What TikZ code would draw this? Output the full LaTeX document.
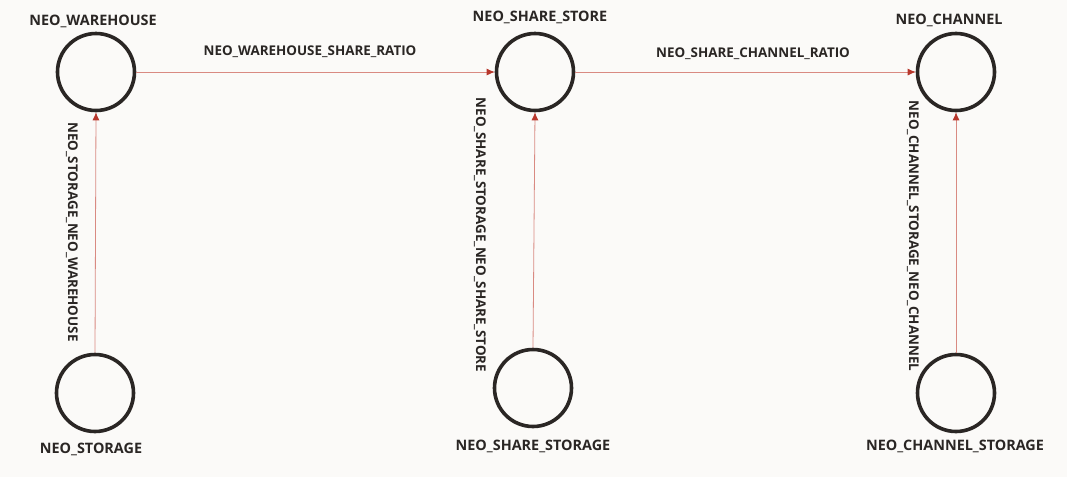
\documentclass[tikz,border=0pt]{standalone}
\usepackage{fontspec}
\setmainfont{Open Sans}
\usetikzlibrary{arrows.meta}
\definecolor{bg}{HTML}{FBFAF8}
\definecolor{ring}{HTML}{2A2624}
\definecolor{edgecol}{HTML}{D98A82}
\definecolor{tipcol}{HTML}{B7372C}
\definecolor{txt}{HTML}{2A2624}
\tikzset{
  entity/.style={circle, draw=ring, line width=3.6pt, minimum size=77pt, inner sep=0pt},
  lbl/.style={text=txt, font=\fontsize{14.4pt}{16pt}\selectfont\bfseries, inner sep=0pt},
  rlbl/.style={text=txt, font=\fontsize{13.4pt}{15pt}\selectfont\bfseries, inner sep=0pt},
  rel/.style={draw=edgecol, line width=0.8pt, -{Latex[length=8pt,width=7pt,color=tipcol]}},
}
\begin{document}
\begin{tikzpicture}[x=1pt,y=-1pt]
\fill[bg] (0,0) rectangle (1067,477);
\useasboundingbox (0,0) rectangle (1067,477);
% nodes
\node[entity] (wh) at (96,72) {};
\node[entity] (ss) at (535,72) {};
\node[entity] (ch) at (956,72) {};
\node[entity] (st) at (95,393) {};
\node[entity] (sst) at (533,388) {};
\node[entity] (cst) at (956,393) {};
% node labels
\node[lbl] (whl) at (93,21) {NEO\_WAREHOUSE};
\node[lbl] (ssl) at (540,17) {NEO\_SHARE\_STORE};
\node[lbl] (chl) at (949,20) {NEO\_CHANNEL};
\node[lbl] (stl) at (91,449) {NEO\_STORAGE};
\node[lbl] (sstl) at (533,446) {NEO\_SHARE\_STORAGE};
\node[lbl] (cstl) at (955,446) {NEO\_CHANNEL\_STORAGE};
% connectors
\draw[rel] (wh.east) -- (ss.west);
\draw[rel] (ss.east) -- (ch.west);
\draw[rel] (st.north) -- (wh.south);
\draw[rel] (sst.north) -- (ss.south);
\draw[rel] (cst.north) -- (ch.south);
% connector labels
\node[rlbl] (r1) at (310,52) {NEO\_WAREHOUSE\_SHARE\_RATIO};
\node[rlbl] (r2) at (753,54) {NEO\_SHARE\_CHANNEL\_RATIO};
\node[rlbl, rotate=-90] (r3) at (72,232) {NEO\_STORAGE\_NEO\_WAREHOUSE};
\node[rlbl, rotate=-90] (r4) at (480,235) {NEO\_SHARE\_STORAGE\_NEO\_SHARE\_STORE};
\node[rlbl, rotate=-90] (r5) at (913,236) {NEO\_CHANNEL\_STORAGE\_NEO\_CHANNEL};
\end{tikzpicture}
\end{document}
